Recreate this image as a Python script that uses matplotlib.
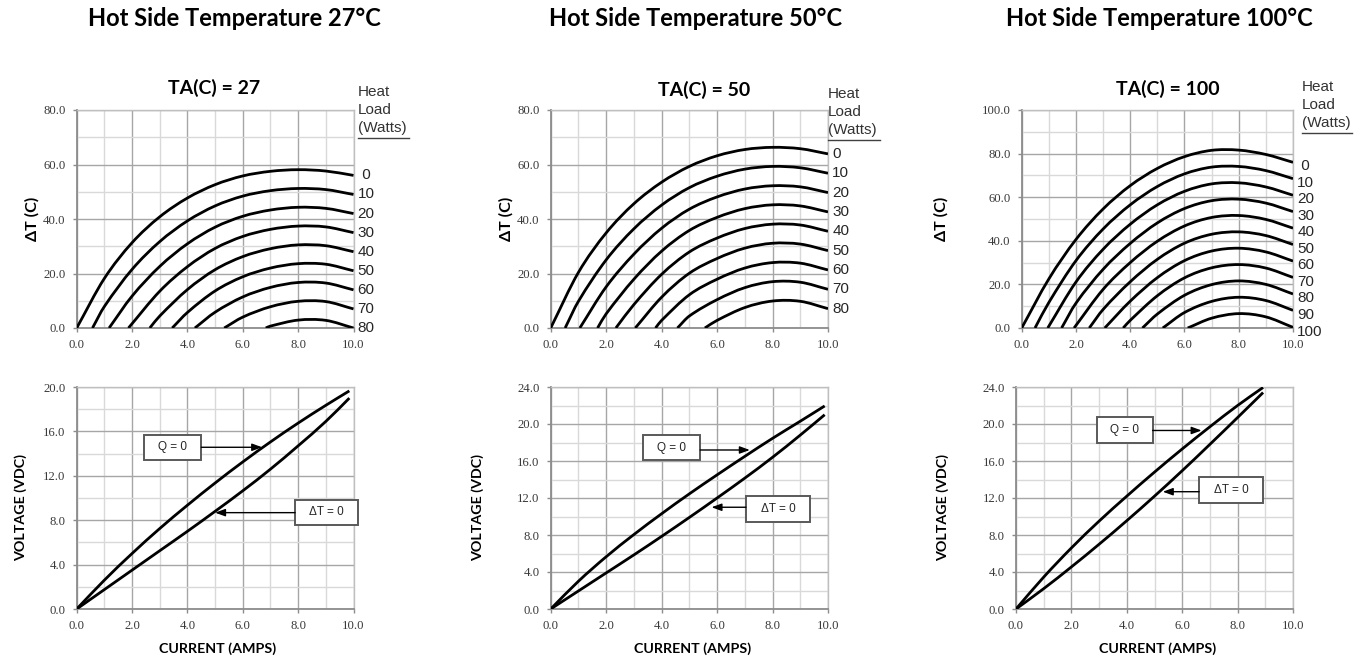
import numpy as np
import matplotlib
matplotlib.use("Agg")
import matplotlib.pyplot as plt
from matplotlib.path import Path
from matplotlib.patches import PathPatch, Rectangle
from matplotlib.lines import Line2D

# ------------------------------------------------------------------ data
hot_side_temps = [27, 50, 100]

# Delta-T vs current, one curve per heat load (W)
loads_27 = [0, 10, 20, 30, 40, 50, 60, 70, 80]
dt27_I = [
    [0, 1, 2, 3, 4, 5, 6, 7, 8, 9, 10],
    [0.57, 1, 2, 3, 4, 5, 6, 7, 8, 9, 10],
    [1.17, 2, 3, 4, 5, 6, 7, 8, 9, 10],
    [1.87, 3, 4, 5, 6, 7, 8, 9, 10],
    [2.64, 3, 4, 5, 6, 7, 8, 9, 10],
    [3.45, 4, 5, 6, 7, 8, 9, 10],
    [4.27, 5, 6, 7, 8, 9, 10],
    [5.33, 6, 7, 8, 9, 10],
    [6.83, 7, 8, 9, 10],
]
dt27_T = [
    [0, 18.2, 31.3, 40.8, 47.7, 52.6, 55.8, 57.5, 58.1, 57.6, 56.0],
    [0, 7.9, 21.5, 31.7, 39.3, 44.8, 48.4, 50.4, 51.2, 50.8, 49.0],
    [0, 11.7, 22.6, 30.9, 37.0, 41.0, 43.3, 44.3, 43.9, 42.0],
    [0, 13.5, 22.5, 29.2, 33.6, 36.2, 37.4, 37.1, 35.0],
    [0, 4.4, 14.1, 21.4, 26.2, 29.1, 30.5, 30.2, 28.0],
    [0, 5.7, 13.6, 18.8, 22.0, 23.6, 23.4, 21.0],
    [0, 5.8, 11.4, 14.9, 16.7, 16.5, 14.0],
    [0, 4.0, 7.8, 9.8, 9.7, 7.0],
    [0, 0.7, 2.9, 2.8, 0.0],
]

loads_50 = [0, 10, 20, 30, 40, 50, 60, 70, 80]
dt50_I = [
    [0, 1, 2, 3, 4, 5, 6, 7, 8, 9, 10],
    [0.52, 1, 2, 3, 4, 5, 6, 7, 8, 9, 10],
    [1.05, 2, 3, 4, 5, 6, 7, 8, 9, 10],
    [1.69, 2, 3, 4, 5, 6, 7, 8, 9, 10],
    [2.35, 3, 4, 5, 6, 7, 8, 9, 10],
    [3.05, 4, 5, 6, 7, 8, 9, 10],
    [3.78, 4, 5, 6, 7, 8, 9, 10],
    [4.57, 5, 6, 7, 8, 9, 10],
    [5.56, 6, 7, 8, 9, 10],
]
dt50_T = [
    [0, 20.4, 34.9, 45.6, 53.5, 59.3, 63.2, 65.5, 66.3, 65.8, 63.9],
    [0, 9.8, 25.0, 36.4, 45.1, 51.5, 55.7, 58.3, 59.3, 58.8, 56.8],
    [0, 15.1, 27.1, 36.6, 43.6, 48.1, 51.0, 52.2, 51.8, 49.7],
    [0, 5.2, 17.9, 28.2, 35.8, 40.6, 43.8, 45.2, 44.8, 42.6],
    [0, 8.6, 19.7, 27.9, 33.0, 36.5, 38.1, 37.8, 35.5],
    [0, 11.3, 20.1, 25.5, 29.3, 31.1, 30.8, 28.4],
    [0, 2.8, 12.2, 17.9, 22.0, 24.0, 23.8, 21.3],
    [0, 4.4, 10.4, 14.8, 17.0, 16.8, 14.2],
    [0, 2.8, 7.5, 9.9, 9.8, 7.1],
]

loads_100 = [0, 10, 20, 30, 40, 50, 60, 70, 80, 90, 100]
dt100_I = [
    [0, 1, 2, 3, 4, 5, 6, 7, 8, 9, 10],
    [0.49, 1, 2, 3, 4, 5, 6, 7, 8, 9, 10],
    [0.96, 2, 3, 4, 5, 6, 7, 8, 9, 10],
    [1.47, 2, 3, 4, 5, 6, 7, 8, 9, 10],
    [1.93, 3, 4, 5, 6, 7, 8, 9, 10],
    [2.49, 3, 4, 5, 6, 7, 8, 9, 10],
    [3.06, 4, 5, 6, 7, 8, 9, 10],
    [3.74, 4, 5, 6, 7, 8, 9, 10],
    [4.45, 5, 6, 7, 8, 9, 10],
    [5.2, 6, 7, 8, 9, 10],
    [6.12, 7, 8, 9, 10],
]
dt100_T = [
    [0, 22.5, 40.6, 54.6, 65.3, 73.2, 78.6, 81.5, 81.6, 79.6, 76.0],
    [0, 11.7, 30.9, 45.4, 56.5, 64.9, 70.7, 73.8, 74.1, 72.2, 68.5],
    [0, 21.1, 36.1, 47.6, 56.5, 62.7, 66.1, 66.6, 64.7, 60.9],
    [0, 11.4, 26.9, 38.8, 48.2, 54.8, 58.4, 59.1, 57.3, 53.4],
    [0, 17.7, 30.0, 39.8, 46.8, 50.7, 51.6, 49.8, 45.8],
    [0, 8.5, 21.2, 31.5, 38.9, 43.0, 44.1, 42.4, 38.3],
    [0, 12.3, 23.1, 30.9, 35.3, 36.6, 34.9, 30.7],
    [0, 3.5, 14.8, 23.0, 27.6, 29.1, 27.5, 23.2],
    [0, 6.4, 15.0, 19.9, 21.6, 20.0, 15.6],
    [0, 7.1, 12.2, 14.1, 12.6, 8.1],
    [0, 4.5, 6.6, 5.1, 0.3],
]

# Voltage vs current (Q = 0 and Delta-T = 0 lines)
v27_I = [0, 1, 2, 3, 4, 5, 6, 7, 8, 9, 9.85]
v27_q0 = [0, 2.6, 5.0, 7.25, 9.35, 11.35, 13.25, 15.05, 16.75, 18.35, 19.65]
v27_dt0 = [0, 1.75, 3.5, 5.25, 7.0, 8.8, 10.65, 12.6, 14.7, 16.9, 19.0]

v50_I = [0, 1, 2, 3, 4, 5, 6, 7, 8, 9, 9.88]
v50_q0 = [0, 3.0, 5.65, 8.05, 10.3, 12.45, 14.5, 16.5, 18.45, 20.3, 21.95]
v50_dt0 = [0, 1.95, 3.9, 5.85, 7.85, 9.9, 12.0, 14.15, 16.4, 18.8, 21.0]

v100_I = [0, 1, 2, 3, 4, 5, 6, 7, 8, 8.92]
v100_q0 = [0, 3.45, 6.6, 9.5, 12.2, 14.8, 17.3, 19.7, 22.0, 23.95]
v100_dt0 = [0, 2.2, 4.55, 7.0, 9.55, 12.2, 14.95, 17.8, 20.7, 23.4]

y_max_dt = [80, 80, 100]
y_max_v = [20, 24, 24]

# ------------------------------------------------------------------ layout
W, H = 1368, 660
top_px = [(76.7, 110, 353.5, 328), (550.7, 110, 828, 328), (1021.7, 110, 1293, 328)]
bot_px = [(76.7, 387, 353.5, 609), (550.7, 387, 828, 609), (1016, 387, 1293, 609)]
title_cx = [234, 696, 1159]
sub_pos = [(214, 88), (704, 90), (1168, 89)]
heat_pos = [(358, 85), (828, 87), (1302, 80)]
under_pos = [(358, 409, 137.5), (828, 880, 139.5), (1302, 1352, 133)]
dt_label_x = [40, 514, 949]      # right edge of the rotated label
v_label_x = [27, 484, 949]
q_label_off = [0, 0, -3]
q_zero_space = [True, False, True]

ann = [
    dict(qb=(2.43, 13.4, 4.5, 15.7), qa=((4.5, 14.57), (6.7, 14.57)),
         db=(7.89, 7.57, 10.17, 9.82), da=((7.89, 8.68), (5.0, 8.68))),
    dict(qb=(3.32, 16.1, 5.39, 18.81), qa=((5.39, 17.19), (7.18, 17.19)),
         db=(7.04, 9.4, 9.35, 12.2), da=((7.04, 11.0), (5.8, 11.0))),
    dict(qb=(2.91, 17.95, 4.93, 20.75), qa=((4.93, 19.3), (6.7, 19.3)),
         db=(6.61, 11.46, 8.92, 14.27), da=((6.61, 12.68), (5.3, 12.68))),
]

BOLD = ["Lato", "DejaVu Sans"]
SANS = ["Liberation Sans", "DejaVu Sans"]
SERIF = ["Liberation Serif", "DejaVu Serif"]


def ax_rect(px):
    x0, y0, x1, y1 = px
    return [x0 / W, 1 - y1 / H, (x1 - x0) / W, (y1 - y0) / H]


def smooth_path(xs, ys):
    xs = np.asarray(xs, float)
    ys = np.asarray(ys, float)
    n = len(xs)
    s = np.zeros(n)
    for i in range(n):
        if i == 0:
            s[i] = (ys[1] - ys[0]) / (xs[1] - xs[0])
        elif i == n - 1:
            s[i] = (ys[-1] - ys[-2]) / (xs[-1] - xs[-2])
        else:
            s[i] = (ys[i + 1] - ys[i - 1]) / (xs[i + 1] - xs[i - 1])
    verts = [(xs[0], ys[0])]
    codes = [Path.MOVETO]
    for i in range(n - 1):
        h = xs[i + 1] - xs[i]
        verts += [(xs[i] + h / 3, ys[i] + s[i] * h / 3),
                  (xs[i + 1] - h / 3, ys[i + 1] - s[i + 1] * h / 3),
                  (xs[i + 1], ys[i + 1])]
        codes += [Path.CURVE4] * 3
    return Path(verts, codes)


def draw_curve(ax, xs, ys):
    ax.add_patch(PathPatch(smooth_path(xs, ys), fill=False, lw=2.0,
                           ec="black", capstyle="butt", zorder=3))


def style(ax, ymax, ymajor, yminor):
    ax.set_xlim(0, 10)
    ax.set_ylim(0, ymax)
    xt = np.arange(0, 10.01, 2)
    yt = np.arange(0, ymax + 0.01, ymajor)
    ax.set_xticks(xt, labels=[f"{t:.1f}" for t in xt], fontfamily=SERIF,
                  fontsize=9.2, color="#3a3a3a")
    ax.set_yticks(yt, labels=[f"{t:.1f}" for t in yt], fontfamily=SERIF,
                  fontsize=9.2, color="#3a3a3a")
    ax.set_xticks(np.arange(0, 10.01, 1), minor=True)
    ax.set_yticks(np.arange(0, ymax + 0.01, yminor), minor=True)
    ax.grid(which="major", color="#a6a6a6", lw=1.0)
    ax.grid(which="minor", color="#d9d9d9", lw=1.0)
    ax.set_axisbelow(True)
    ax.tick_params(which="major", length=3, width=1, color="#8c8c8c", pad=5)
    ax.tick_params(which="minor", length=0)
    for side in ["left", "bottom"]:
        ax.spines[side].set_color("#8c8c8c")
        ax.spines[side].set_linewidth(1.3)
    for side in ["top", "right"]:
        ax.spines[side].set_color("#bfbfbf")
        ax.spines[side].set_linewidth(1.0)


fig = plt.figure(figsize=(W / 100, H / 100), dpi=100)

dt_sets = [(loads_27, dt27_I, dt27_T), (loads_50, dt50_I, dt50_T),
           (loads_100, dt100_I, dt100_T)]
v_sets = [(v27_I, v27_q0, v27_dt0), (v50_I, v50_q0, v50_dt0),
          (v100_I, v100_q0, v100_dt0)]

for k in range(3):
    # ---------- titles
    fig.text(title_cx[k] / W, 1 - 18 / H, f"Hot Side Temperature {hot_side_temps[k]}°C",
             ha="center", va="center", fontsize=17, fontweight="bold", family=BOLD)
    sx, sy = sub_pos[k]
    fig.text(sx / W, 1 - sy / H, f"TA(C) = {hot_side_temps[k]}", ha="center",
             va="center", fontsize=14, fontweight="bold", family=BOLD)
    hx, hy = heat_pos[k]
    fig.text(hx / W, 1 - hy / H, "Heat\nLoad\n(Watts)", ha="left", va="top",
             fontsize=11, family=SANS, color="#333333", linespacing=1.38)
    ux0, ux1, uy = under_pos[k]
    fig.add_artist(Line2D([ux0 / W, ux1 / W], [1 - uy / H, 1 - uy / H],
                          color="#404040", lw=1.0))

    # ---------- top: Delta T vs current
    ax = fig.add_axes(ax_rect(top_px[k]))
    style(ax, y_max_dt[k], 20, 10)
    loads, Is, Ts = dt_sets[k]
    for q, xs, ys in zip(loads, Is, Ts):
        draw_curve(ax, xs, ys)
        lab = f" {q}" if (q == 0 and q_zero_space[k]) else f"{q}"
        ax.annotate(lab, xy=(10, ys[-1]), xytext=(3, q_label_off[k]),
                    textcoords="offset points", ha="left", va="center",
                    fontsize=11, family=SANS, color="#262626", annotation_clip=False)
    ax.set_ylabel("ΔT (C)", fontsize=11.5, fontweight="bold", family=BOLD)
    axw = top_px[k][2] - top_px[k][0]
    ax.yaxis.set_label_coords(-(top_px[k][0] - dt_label_x[k]) / axw, 0.5)

    # ---------- bottom: voltage vs current
    bx = fig.add_axes(ax_rect(bot_px[k]))
    style(bx, y_max_v[k], 4, 2)
    I, q0, d0 = v_sets[k]
    draw_curve(bx, I, q0)
    draw_curve(bx, I, d0)
    bx.set_xlabel("CURRENT (AMPS)", fontsize=10.3, fontweight="bold", family=BOLD)
    bx.xaxis.set_label_coords(0.51, -0.148)
    bx.set_ylabel("VOLTAGE (VDC)", fontsize=10.3, fontweight="bold", family=BOLD)
    bw = bot_px[k][2] - bot_px[k][0]
    bx.yaxis.set_label_coords(-(bot_px[k][0] - v_label_x[k]) / bw, 0.455)

    a = ann[k]
    for box, arr, txt in [(a["qb"], a["qa"], "Q = 0"), (a["db"], a["da"], "ΔT = 0")]:
        x0, y0, x1, y1 = box
        bx.add_patch(Rectangle((x0, y0), x1 - x0, y1 - y0, facecolor="white",
                               edgecolor="#595959", lw=1.4, zorder=5, clip_on=False))
        bx.text((x0 + x1) / 2, (y0 + y1) / 2, txt, ha="center", va="center",
                fontsize=8.5, family=SANS, color="#262626", zorder=6, clip_on=False)
        (sx0, sy0), (tx, ty) = arr
        bx.annotate("", xy=(tx, ty), xytext=(sx0, sy0),
                    arrowprops=dict(arrowstyle="-|>,head_length=0.6,head_width=0.22",
                                    color="black", lw=1.0, shrinkA=0, shrinkB=0),
                    zorder=6, annotation_clip=False)

fig.savefig("out.png", dpi=100)
